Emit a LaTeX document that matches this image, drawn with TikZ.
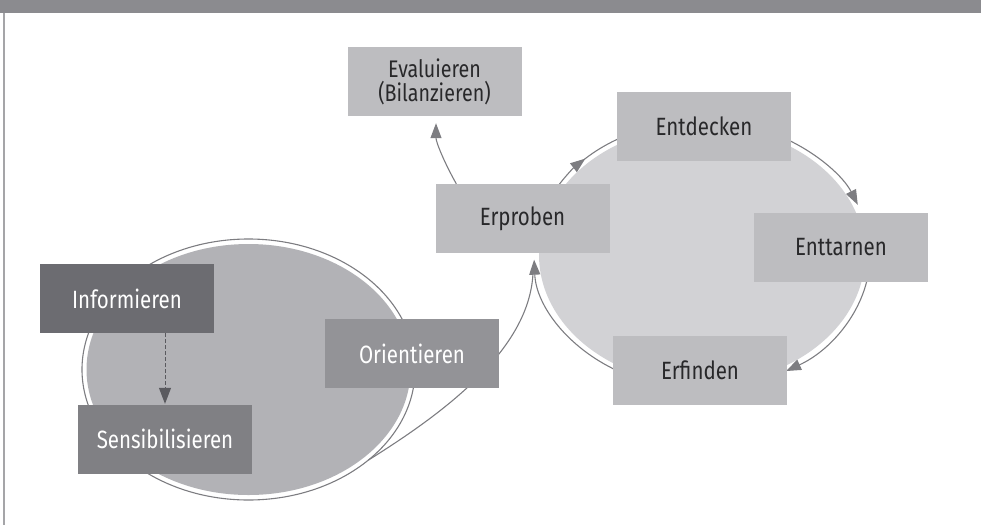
\documentclass[tikz,border=0pt]{standalone}
\usepackage{fontspec}
\setmainfont{Fira Sans}[FakeStretch=0.82]
\usetikzlibrary{arrows.meta,calc}
\definecolor{hdr}{RGB}{139,139,143}
\definecolor{vline}{RGB}{165,165,168}
\definecolor{lfill}{RGB}{178,178,182}
\definecolor{rfill}{RGB}{210,210,213}
\definecolor{lightbox}{RGB}{189,189,192}
\definecolor{infobox}{RGB}{108,108,113}
\definecolor{sensbox}{RGB}{128,128,132}
\definecolor{oribox}{RGB}{147,147,151}
\definecolor{outl}{RGB}{125,125,129}
\definecolor{dasharr}{RGB}{90,90,95}
\definecolor{darktext}{RGB}{40,40,42}
\tikzset{
  box/.style={rectangle, minimum width=174pt, minimum height=69pt, inner sep=0pt,
    font=\fontsize{25}{25}\selectfont, align=center},
  lbox/.style={box, fill=lightbox, text=darktext},
  dbox/.style={box, text=white},
  outline/.style={draw=outl, line width=1.1pt},
  tipped/.style={outline, -{Triangle[length=15pt,width=11pt]}},
}
\begin{document}
\begin{tikzpicture}[x=1pt,y=1pt]
\useasboundingbox (0,0) rectangle (981,-525);
% header and left rule
\fill[hdr] (0,0) rectangle (981,-13);
\draw[vline, line width=1.5pt] (4,-13) -- (4,-525);
% ellipse centres
\coordinate (lc) at (248.5,-369.5);
\coordinate (rc) at (702,-255);
% fills
\fill[lfill] (lc) ellipse [x radius=162pt, y radius=125.5pt];
\fill[rfill] (rc) ellipse [x radius=163pt, y radius=129pt];
% left outline
\draw[outline] (lc) ellipse [x radius=166.5pt, y radius=130.5pt];
% right outline arcs
\draw[tipped] ($(rc)+(150:168pt and 134pt)$) arc[start angle=150, end angle=134, x radius=168pt, y radius=134pt];
\draw[outline] ($(rc)+(136:168pt and 134pt)$) arc[start angle=136, end angle=118, x radius=168pt, y radius=134pt];
\draw[tipped] ($(rc)+(60:168pt and 134pt)$) arc[start angle=60, end angle=22, x radius=168pt, y radius=134pt];
\draw[tipped] ($(rc)+(-10:168pt and 134pt)$) arc[start angle=-10, end angle=-60, x radius=168pt, y radius=134pt];
\draw[tipped] ($(rc)+(240:168pt and 134pt)$) arc[start angle=240, end angle=182, x radius=168pt, y radius=134pt];
\coordinate (tip4) at ($(rc)+(182:168pt and 134pt)$);
% connector from left ellipse to Erproben
\coordinate (cstart) at ($(lc)+(-44:166.5pt and 130.5pt)$);
\draw[outline] (cstart) .. controls (452,-408) and (532,-345) .. ([xshift=-1pt,yshift=-10pt]tip4);
% boxes
\node[lbox, font=\fontsize{24}{24}\selectfont] (eval) at (434.5,-81.5) {Evaluieren\\(Bilanzieren)};
\node[lbox] (erproben) at (522.5,-218.5) {Erproben};
\node[lbox] (entdecken) at (704,-126.5) {Entdecken};
\node[lbox] (enttarnen) at (841,-247) {Enttarnen};
\node[lbox] (erfinden) at (700,-370) {Erfinden};
\node[dbox, fill=infobox] (info) at (127,-298.5) {Informieren};
\node[dbox, fill=sensbox] (sens) at (165,-439) {Sensibilisieren};
\node[dbox, fill=oribox] (ori) at (412,-353.5) {Orientieren};
% Erproben -> Evaluieren
\draw[tipped] ([xshift=21pt]erproben.north west) .. controls (444,-162) and (436,-142) .. ([xshift=1.5pt,yshift=-7pt]eval.south);
% Informieren -> Sensibilisieren
\draw[dasharr, line width=1pt, dash pattern=on 4pt off 2pt, -{Triangle[length=16pt,width=12pt]}, shorten >=0.5pt] (sens.north |- info.south) -- (sens.north);
\end{tikzpicture}
\end{document}
